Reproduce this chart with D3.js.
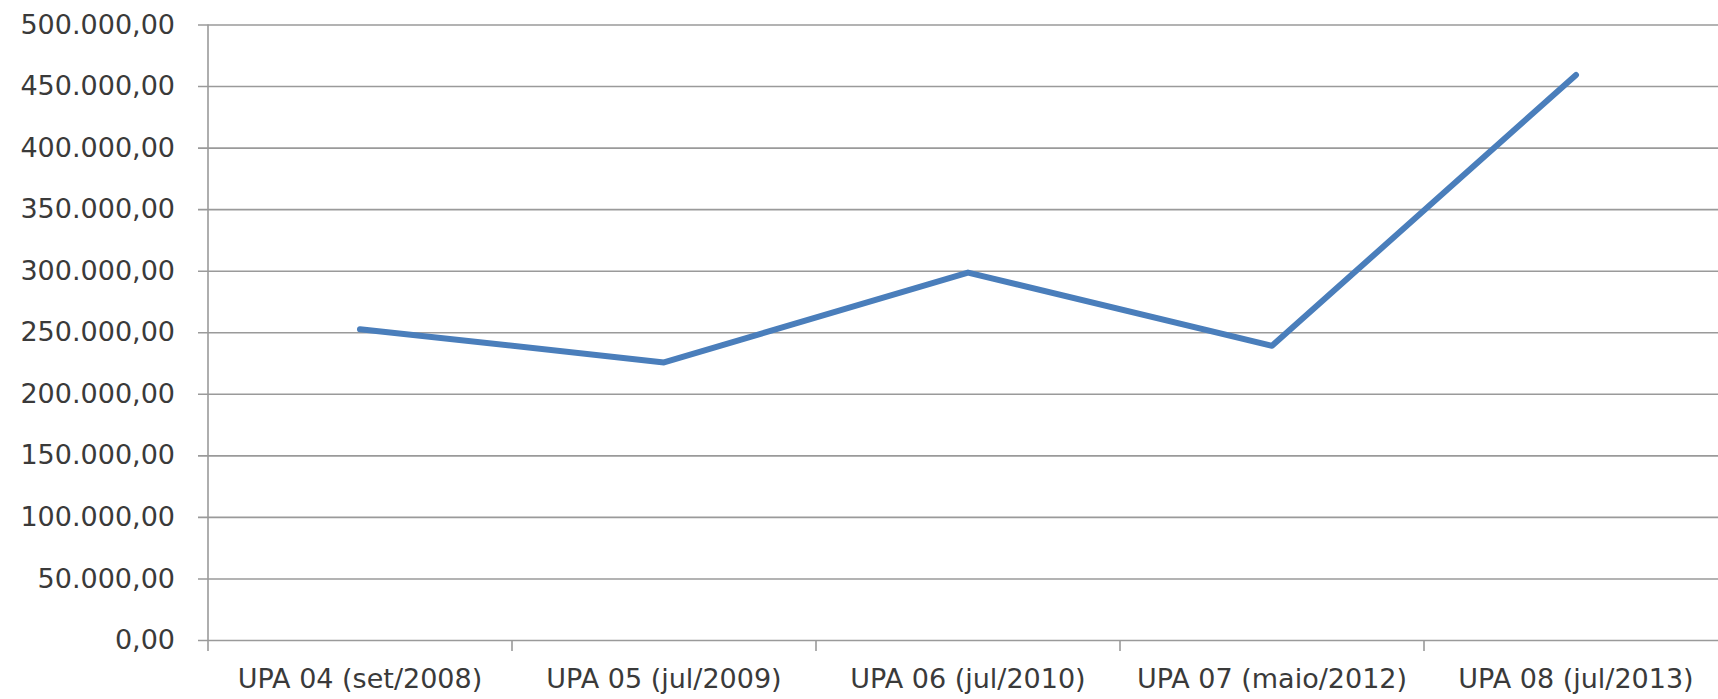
<!DOCTYPE html>
<html>
<head>
<meta charset="utf-8">
<script src="https://cdn.jsdelivr.net/npm/d3@7"></script>
<style>
  html, body { margin: 0; padding: 0; background: #fff; overflow: hidden; }
  svg { display: block; }
  .tick text { font-family: "DejaVu Sans", sans-serif; fill: #3a3a3a; }
</style>
</head>
<body>
<svg id="chart" width="1718" height="699"></svg>
<script>
// chart data
const categories = [
    'UPA 04 (set/2008)',
    'UPA 05 (jul/2009)',
    'UPA 06 (jul/2010)',
    'UPA 07 (maio/2012)',
    'UPA 08 (jul/2013)'
];
const values = [252500, 225500, 298500, 239000, 459000];
const yTicks = [0, 50000, 100000, 150000, 200000, 250000, 300000, 350000, 400000, 450000, 500000];

// pt-BR number format: 500.000,00
const fmt = d3.formatLocale({ decimal: ',', thousands: '.', grouping: [3], currency: ['R$', ''] }).format(',.2f');

const margin = { top: 24.5, left: 208, bottom: 59 };
const plotWidth = 1520;   // chart is wider than the window, right edge is cut off
const svg = d3.select('#chart');
const height = 699 - margin.top - margin.bottom;

const x = d3.scaleBand().domain(categories).range([0, plotWidth]).paddingInner(0).paddingOuter(0);
const y = d3.scaleLinear().domain([0, 500000]).range([height, 0]);

const g = svg.append('g').attr('transform', `translate(${margin.left},${margin.top})`);

// horizontal gridlines with little ticks on the left
const yAxis = g.append('g')
    .call(d3.axisLeft(y).tickValues(yTicks).tickFormat(fmt).tickSize(-plotWidth).tickSizeOuter(0).tickPadding(32));
yAxis.select('.domain').remove();
yAxis.selectAll('.tick line').attr('stroke', '#9a9a9a').attr('stroke-width', 1.6).attr('x1', -10);
yAxis.selectAll('.tick text').style('font-size', '27px').attr('x', -33);

// vertical axis line
g.append('line')
    .attr('x1', 0).attr('x2', 0)
    .attr('y1', 0).attr('y2', height + 11)
    .attr('stroke', '#9a9a9a').attr('stroke-width', 1.6);

// category axis: ticks on band boundaries
const xAxis = g.append('g').attr('transform', `translate(0,${height})`)
    .call(d3.axisBottom(x).tickSize(0).tickPadding(29));
xAxis.select('.domain').remove();
xAxis.selectAll('.tick text').style('font-size', '27px');

g.append('g').selectAll('line.sep')
    .data(categories.slice(1))
    .join('line')
    .attr('class', 'sep')
    .attr('x1', d => x(d)).attr('x2', d => x(d))
    .attr('y1', height).attr('y2', height + 11)
    .attr('stroke', '#9a9a9a').attr('stroke-width', 1.6);

// the series line
const line = d3.line()
    .x((d, i) => x(categories[i]) + x.bandwidth() / 2)
    .y(d => y(d));

g.append('path')
    .datum(values)
    .attr('d', line)
    .attr('fill', 'none')
    .attr('stroke', '#4a7ebb')
    .attr('stroke-width', 6)
    .attr('stroke-linejoin', 'round')
    .attr('stroke-linecap', 'round');
</script>
</body>
</html>
